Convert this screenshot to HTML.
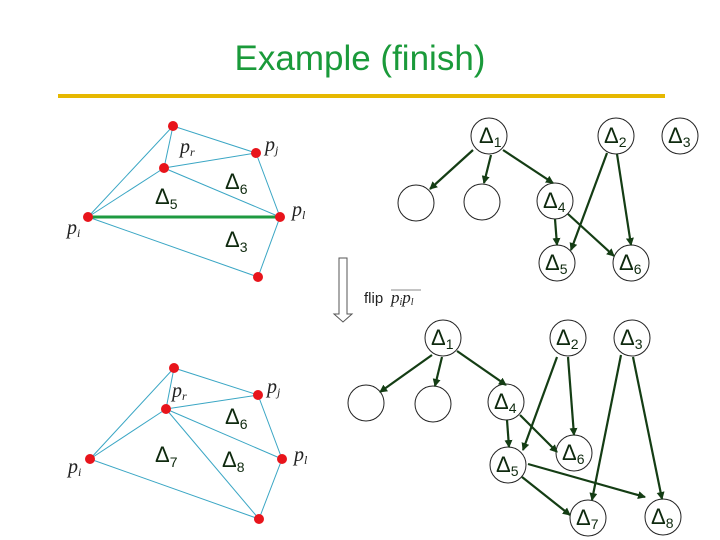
<!DOCTYPE html>
<html><head><style>
body{margin:0;background:#fff;width:720px;height:540px;overflow:hidden}
svg{display:block}
.t{font-family:"Liberation Sans",sans-serif;fill:#0f2a0f;font-size:22px}
.s{font-size:14px}
.p{font-family:"Liberation Serif",serif;font-style:italic;fill:#222;font-size:20px}
.ps{font-size:12px}
</style></head><body>
<svg width="720" height="540" viewBox="0 0 720 540">
<defs><marker id="a" markerWidth="8" markerHeight="8" refX="7" refY="4" orient="auto" markerUnits="userSpaceOnUse"><path d="M0,0 L8,4 L0,8 Z" fill="#143d14"/></marker></defs>
<text x="360" y="70" text-anchor="middle" font-family="Liberation Sans,sans-serif" font-size="35" fill="#1a9a3a">Example (finish)</text>
<rect x="58" y="94" width="607" height="4" fill="#e6b800"/>

<g stroke="#3aa6c4" stroke-width="1" fill="none">
<polyline points="88,217 173,126 256,153 280,217 258,277 88,217"/>
<line x1="173" y1="126" x2="164" y2="168"/><line x1="164" y1="168" x2="256" y2="153"/>
<line x1="164" y1="168" x2="280" y2="217"/><line x1="88" y1="217" x2="164" y2="168"/>
</g>
<line x1="88" y1="217" x2="280" y2="217" stroke="#1e9a40" stroke-width="3"/>
<g fill="#e8141b"><circle cx="173" cy="126" r="5"/><circle cx="164" cy="168" r="5"/><circle cx="256" cy="153" r="5"/><circle cx="280" cy="217" r="5"/><circle cx="88" cy="217" r="5"/><circle cx="258" cy="277" r="5"/></g>
<text class="p" x="180" y="153">p<tspan class="ps" dy="3">r</tspan></text>
<text class="p" x="265" y="151">p<tspan class="ps" dy="3">j</tspan></text>
<text class="p" x="292" y="216">p<tspan class="ps" dy="3">l</tspan></text>
<text class="p" x="67" y="234">p<tspan class="ps" dy="3">i</tspan></text>
<text class="t" x="155" y="204">Δ<tspan class="s" dy="5">5</tspan></text>
<text class="t" x="225" y="189">Δ<tspan class="s" dy="5">6</tspan></text>
<text class="t" x="225" y="247">Δ<tspan class="s" dy="5">3</tspan></text>

<g stroke="#3aa6c4" stroke-width="1" fill="none">
<polyline points="90,459 174,368 258,395 282,459 259,519 90,459"/>
<line x1="174" y1="368" x2="166" y2="409"/><line x1="166" y1="409" x2="258" y2="395"/>
<line x1="166" y1="409" x2="282" y2="459"/><line x1="90" y1="459" x2="166" y2="409"/>
<line x1="166" y1="409" x2="259" y2="519"/>
</g>
<g fill="#e8141b"><circle cx="174" cy="368" r="5"/><circle cx="166" cy="409" r="5"/><circle cx="258" cy="395" r="5"/><circle cx="282" cy="459" r="5"/><circle cx="90" cy="459" r="5"/><circle cx="259" cy="519" r="5"/></g>
<text class="p" x="172" y="397">p<tspan class="ps" dy="3">r</tspan></text>
<text class="p" x="267" y="393">p<tspan class="ps" dy="3">j</tspan></text>
<text class="p" x="294" y="461">p<tspan class="ps" dy="3">l</tspan></text>
<text class="p" x="68" y="473">p<tspan class="ps" dy="3">i</tspan></text>
<text class="t" x="225" y="424">Δ<tspan class="s" dy="5">6</tspan></text>
<text class="t" x="155" y="462">Δ<tspan class="s" dy="5">7</tspan></text>
<text class="t" x="222" y="467">Δ<tspan class="s" dy="5">8</tspan></text>

<path d="M339,258 H347 V314 H352 L343,322 L334,314 H339 Z" fill="#fff" stroke="#555" stroke-width="1"/>
<text x="364" y="303" font-family="Liberation Sans,sans-serif" font-size="15" fill="#222">flip</text>
<text class="p" x="391" y="303" style="font-size:17px">p<tspan class="ps" dy="2" style="font-size:10px">i</tspan><tspan dy="-2">p</tspan><tspan class="ps" dy="2" style="font-size:10px">l</tspan></text>
<line x1="391" y1="290" x2="421" y2="290" stroke="#888" stroke-width="1"/>

<g fill="#fff" stroke="#222" stroke-width="1">
<circle cx="489" cy="136" r="18"/><circle cx="616" cy="136" r="18"/><circle cx="680" cy="136" r="18"/>
<circle cx="416" cy="203" r="18"/><circle cx="482" cy="202" r="18"/><circle cx="555" cy="201" r="18"/>
<circle cx="557" cy="263" r="18"/><circle cx="631" cy="263" r="18"/>
</g>
<g stroke="#143d14" stroke-width="2.2" marker-end="url(#a)">
<line x1="473" y1="150" x2="430" y2="189"/><line x1="491" y1="155" x2="484" y2="183"/>
<line x1="503" y1="150" x2="553" y2="183"/><line x1="555" y1="219" x2="557" y2="245"/>
<line x1="568" y1="214" x2="614" y2="256"/><line x1="607" y1="153" x2="571" y2="250"/>
<line x1="617" y1="154" x2="631" y2="245"/>
</g>
<text class="t" x="479" y="143">Δ<tspan class="s" dy="4">1</tspan></text>
<text class="t" x="604" y="143">Δ<tspan class="s" dy="4">2</tspan></text>
<text class="t" x="668" y="143">Δ<tspan class="s" dy="4">3</tspan></text>
<text class="t" x="543" y="208">Δ<tspan class="s" dy="4">4</tspan></text>
<text class="t" x="545" y="270">Δ<tspan class="s" dy="4">5</tspan></text>
<text class="t" x="619" y="270">Δ<tspan class="s" dy="4">6</tspan></text>

<g fill="#fff" stroke="#222" stroke-width="1">
<circle cx="443" cy="338" r="18"/><circle cx="568" cy="338" r="18"/><circle cx="632" cy="338" r="18"/>
<circle cx="366" cy="403" r="18"/><circle cx="433" cy="404" r="18"/><circle cx="506" cy="402" r="18"/>
<circle cx="574" cy="453" r="18"/><circle cx="508" cy="465" r="18"/><circle cx="588" cy="518" r="18"/><circle cx="663" cy="517" r="18"/>
</g>
<g stroke="#143d14" stroke-width="2.2" marker-end="url(#a)">
<line x1="432" y1="355" x2="380" y2="392"/><line x1="442" y1="357" x2="435" y2="386"/>
<line x1="457" y1="351" x2="506" y2="385"/><line x1="507" y1="420" x2="509" y2="447"/>
<line x1="520" y1="415" x2="557" y2="452"/><line x1="557" y1="357" x2="523" y2="450"/>
<line x1="568" y1="357" x2="574" y2="435"/><line x1="621" y1="355" x2="592" y2="500"/>
<line x1="633" y1="357" x2="662" y2="499"/><line x1="522" y1="477" x2="570" y2="515"/>
<line x1="528" y1="464" x2="645" y2="497"/>
</g>
<text class="t" x="431" y="345">Δ<tspan class="s" dy="4">1</tspan></text>
<text class="t" x="556" y="345">Δ<tspan class="s" dy="4">2</tspan></text>
<text class="t" x="620" y="345">Δ<tspan class="s" dy="4">3</tspan></text>
<text class="t" x="494" y="409">Δ<tspan class="s" dy="4">4</tspan></text>
<text class="t" x="562" y="460">Δ<tspan class="s" dy="4">6</tspan></text>
<text class="t" x="496" y="472">Δ<tspan class="s" dy="4">5</tspan></text>
<text class="t" x="576" y="525">Δ<tspan class="s" dy="4">7</tspan></text>
<text class="t" x="651" y="524">Δ<tspan class="s" dy="4">8</tspan></text>
</svg>
</body></html>
